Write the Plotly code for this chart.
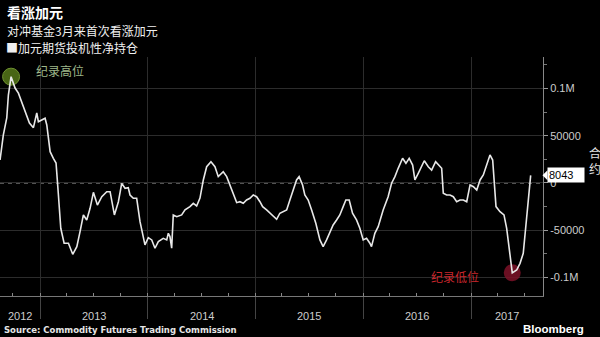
import pandas as pd
import plotly.graph_objects as go

# ---------------- data ----------------
title = "看涨加元"
subtitle = "对冲基金3月来首次看涨加元"
series_name = "加元期货投机性净持仓"
source_text = "Source: Commodity Futures Trading Commission"

# decimal-year positions of weekly readings and net positions (contracts)
time_points = [
    2012.629, 2012.659, 2012.691, 2012.706, 2012.731, 2012.768, 2012.799, 2012.830,
    2012.861, 2012.901, 2012.938, 2012.969, 2012.984, 2013.016, 2013.046, 2013.062,
    2013.093, 2013.123, 2013.148, 2013.170, 2013.192, 2013.223, 2013.263, 2013.303,
    2013.341, 2013.371, 2013.402, 2013.433, 2013.464, 2013.495, 2013.532, 2013.573,
    2013.619, 2013.650, 2013.690, 2013.727, 2013.758, 2013.789, 2013.819, 2013.835,
    2013.866, 2013.897, 2013.928, 2013.974, 2014.005, 2014.037, 2014.067, 2014.098,
    2014.144, 2014.176, 2014.191, 2014.206, 2014.222, 2014.237, 2014.269, 2014.315,
    2014.346, 2014.392, 2014.423, 2014.454, 2014.485, 2014.516, 2014.547, 2014.587,
    2014.624, 2014.655, 2014.701, 2014.733, 2014.779, 2014.826, 2014.856, 2014.887,
    2014.918, 2014.949, 2014.980, 2015.011, 2015.042, 2015.067, 2015.104, 2015.135,
    2015.165, 2015.197, 2015.227, 2015.258, 2015.290, 2015.320, 2015.351, 2015.382,
    2015.406, 2015.438, 2015.459, 2015.490, 2015.522, 2015.561, 2015.599, 2015.629,
    2015.661, 2015.691, 2015.722, 2015.754, 2015.784, 2015.815, 2015.840, 2015.871,
    2015.902, 2015.939, 2015.970, 2016.001, 2016.032, 2016.063, 2016.078, 2016.109,
    2016.140, 2016.186, 2016.232, 2016.264, 2016.295, 2016.325, 2016.366, 2016.397,
    2016.427, 2016.459, 2016.480, 2016.511, 2016.542, 2016.567, 2016.604, 2016.635,
    2016.672, 2016.712, 2016.728, 2016.743, 2016.774, 2016.805, 2016.836, 2016.867,
    2016.898, 2016.929, 2016.960, 2016.991, 2017.022, 2017.053, 2017.084, 2017.114,
    2017.146, 2017.176, 2017.201, 2017.216, 2017.232, 2017.269, 2017.306, 2017.331,
    2017.353, 2017.371, 2017.383, 2017.424, 2017.455, 2017.485, 2017.508, 2017.532,
    2017.554,
]
net_positions = [
    24300, 50700, 68700, 93000, 112400, 100400, 95000, 86000,
    75400, 63400, 58500, 74000, 64800, 66600, 68400, 61300,
    33100, 26100, 21100, -12700, -47900, -63700, -63700, -75400,
    -67300, -51500, -33800, -39100, -26800, -9900, -23300, -14500,
    -9200, -9200, -33800, -19800, -400, -5600, -5000, -12700,
    -16200, -16200, -40900, -65500, -57800, -60200, -69000, -62000,
    -58500, -60200, -53200, -56700, -69000, -33800, -35600, -33800,
    -28500, -25000, -21500, -24300, -16000, 3200, 17200, 22500,
    17200, 6700, 11900, 6700, -7400, -20800, -19800, -21500,
    -18000, -16200, -12700, -14500, -19800, -25000, -28500, -32000,
    -35600, -38400, -32000, -30300, -28500, -18000, -7400, 3200,
    6700, -2100, -12700, -18000, -28500, -42600, -60200, -67300,
    -60200, -51500, -44400, -39100, -33800, -25000, -18000, -18000,
    -32000, -39100, -47900, -60200, -58500, -63700, -67300, -53200,
    -46200, -28500, -14500, -300, 6700, 15500, 26100, 20800,
    26100, 19000, 3200, 10200, 17200, 23500, 17200, 13700,
    22500, 17200, 15500, -10900, -12700, -12700, -14500, -19800,
    -18000, -18000, -19800, -2100, -3900, -7400, 3200, 8500,
    20800, 29600, 24300, 3200, -25000, -30300, -33800, -47900,
    -67300, -88000, -95000, -92000, -85000, -74400, -46200, -14500,
    8043,
]

y_tick_values = [-100000, -50000, 0, 50000, 100000]
y_tick_labels = ["-0.1M", "-50000", "0", "50000", "0.1M"]
year_labels = [2012, 2013, 2014, 2015, 2016, 2017]
record_high_label = "纪录高位"
record_low_label = "纪录低位"
unit_label = "合<br>约"

# ---------------- helpers ----------------
def dec_to_date(y):
    yr = int(y)
    start = pd.Timestamp(yr, 1, 1)
    end = pd.Timestamp(yr + 1, 1, 1)
    return start + (end - start) * (y - yr)

dates = [dec_to_date(t) for t in time_points]

W, H = 600, 337
ML, MR, MT, MB = 0, 57, 57, 41
PW, PH = W - ML - MR, H - MT - MB

def px_x(x):
    return (x - ML) / PW

def px_y(y):
    return (H - MB - y) / PH

x_start = pd.Timestamp("2012-08-18")
x_end = pd.Timestamp("2017-09-02")
y_range = [-119500, 133200]

CJK = "Noto Sans CJK SC, sans-serif"
NUM = "Liberation Sans, Arial, sans-serif"

i_max = max(range(len(net_positions)), key=lambda i: net_positions[i])
i_min = min(range(len(net_positions)), key=lambda i: net_positions[i])
last_value = net_positions[-1]

fig = go.Figure()

# record markers (under the line)
fig.add_trace(go.Scatter(
    x=[dates[i_max]], y=[net_positions[i_max]], mode="markers",
    marker=dict(size=17, color="rgba(76,106,22,0.95)",
                line=dict(color="#6f9230", width=1)),
    hoverinfo="skip", showlegend=False))
fig.add_trace(go.Scatter(
    x=[dates[i_min]], y=[net_positions[i_min]], mode="markers",
    marker=dict(size=17, color="rgba(125,18,40,0.85)",
                line=dict(width=0)),
    hoverinfo="skip", showlegend=False))

fig.add_trace(go.Scatter(
    x=dates, y=net_positions, mode="lines", name=series_name,
    line=dict(color="#e8e8e8", width=1.6), showlegend=False))

# zero line, dashed
fig.add_shape(type="line", xref="paper", x0=0, x1=1, yref="y", y0=0, y1=0,
              line=dict(color="#b0b0b0", width=1, dash="4px,4px"), layer="below")

annotations = []
# titles
annotations.append(dict(text="<b>" + title + "</b>", xref="paper", yref="paper",
                        x=px_x(5), y=px_y(12), xanchor="left", yanchor="middle",
                        showarrow=False, font=dict(family=CJK, size=14, color="#ffffff")))
annotations.append(dict(text=subtitle, xref="paper", yref="paper",
                        x=px_x(5), y=px_y(30), xanchor="left", yanchor="middle",
                        showarrow=False, font=dict(family=CJK, size=12, color="#f0f0f0")))
annotations.append(dict(text="■" + series_name, xref="paper", yref="paper",
                        x=px_x(4), y=px_y(47), xanchor="left", yanchor="middle",
                        showarrow=False, font=dict(family=CJK, size=12, color="#f0f0f0")))

# record labels
annotations.append(dict(text=record_high_label, x=dates[i_max], y=net_positions[i_max],
                        xref="x", yref="y", xanchor="left", yanchor="middle",
                        xshift=23, yshift=6, showarrow=False,
                        font=dict(family=CJK, size=12, color="#9fb88a")))
annotations.append(dict(text=record_low_label, x=dates[i_min], y=net_positions[i_min],
                        xref="x", yref="y", xanchor="right", yanchor="middle",
                        xshift=-31, yshift=-4, showarrow=False,
                        font=dict(family=CJK, size=12, color="#c8262c")))

# year labels centred in the visible part of each year
for yr in year_labels:
    lo = max(pd.Timestamp(yr, 1, 1), x_start)
    hi = min(pd.Timestamp(yr + 1, 1, 1), x_end)
    mid = lo + (hi - lo) / 2
    annotations.append(dict(text=str(yr), x=mid, xref="x", yref="paper",
                            y=px_y(316), xanchor="center", yanchor="middle",
                            showarrow=False, font=dict(family=NUM, size=11, color="#cccccc")))

# last value box
annotations.append(dict(text=str(last_value), xref="paper", yref="y",
                        x=px_x(547), y=last_value, xanchor="left", yanchor="middle",
                        showarrow=False, bgcolor="#ffffff", borderpad=1, width=34,
                        align="left", font=dict(family=NUM, size=11, color="#000000")))
# unit label
annotations.append(dict(text=unit_label, xref="paper", yref="paper",
                        x=px_x(595), y=px_y(160), xanchor="center", yanchor="middle",
                        showarrow=False, font=dict(family=CJK, size=12, color="#e0e0e0")))

# footer
annotations.append(dict(text="<b>" + source_text + "</b>", xref="paper", yref="paper",
                        x=px_x(2), y=px_y(330), xanchor="left", yanchor="middle",
                        showarrow=False, font=dict(family="DejaVu Sans, sans-serif", size=8.5,
                                                   color="#e6e6e6")))
annotations.append(dict(text="<b>Bloomberg</b>", xref="paper", yref="paper",
                        x=px_x(586), y=px_y(329), xanchor="right", yanchor="middle",
                        showarrow=False, font=dict(family=NUM, size=11.5, color="#ffffff")))

# pointer triangle for the last value box
dy = (y_range[1] - y_range[0]) / PH * 5
fig.add_shape(type="path", xref="paper", yref="y",
              path=f"M {px_x(542.5)},{last_value} L {px_x(547.5)},{last_value + dy} "
                   f"L {px_x(547.5)},{last_value - dy} Z",
              fillcolor="#ffffff", line=dict(width=0))

fig.update_layout(
    width=W, height=H,
    margin=dict(l=ML, r=MR, t=MT, b=MB, pad=0),
    paper_bgcolor="#000000", plot_bgcolor="#000000",
    annotations=annotations,
    showlegend=False,
    xaxis=dict(
        type="date", range=[x_start, x_end],
        tickvals=[pd.Timestamp(y, 1, 1) for y in year_labels[1:]],
        showticklabels=False,
        ticks="outside", ticklen=22, tickcolor="#444444", tickwidth=1,
        showgrid=True, gridcolor="#2c2c2c", gridwidth=1,
        showline=True, linecolor="#777777", linewidth=1,
        zeroline=False,
        minor=dict(dtick="M3", tick0="2013-01-01", ticks="inside", ticklen=3,
                   tickcolor="#888888", showgrid=False),
    ),
    yaxis=dict(
        side="right", range=y_range,
        tickvals=y_tick_values, ticktext=y_tick_labels,
        ticks="outside", ticklen=4, tickcolor="#999999",
        tickfont=dict(family=NUM, size=11, color="#cccccc"),
        showgrid=True, gridcolor="#2c2c2c", gridwidth=1,
        showline=True, linecolor="#888888", linewidth=1,
        zeroline=False,
        minor=dict(dtick=25000, ticks="outside", ticklen=3, tickcolor="#777777",
                   showgrid=False),
    ),
)

fig.write_html("out.html")
